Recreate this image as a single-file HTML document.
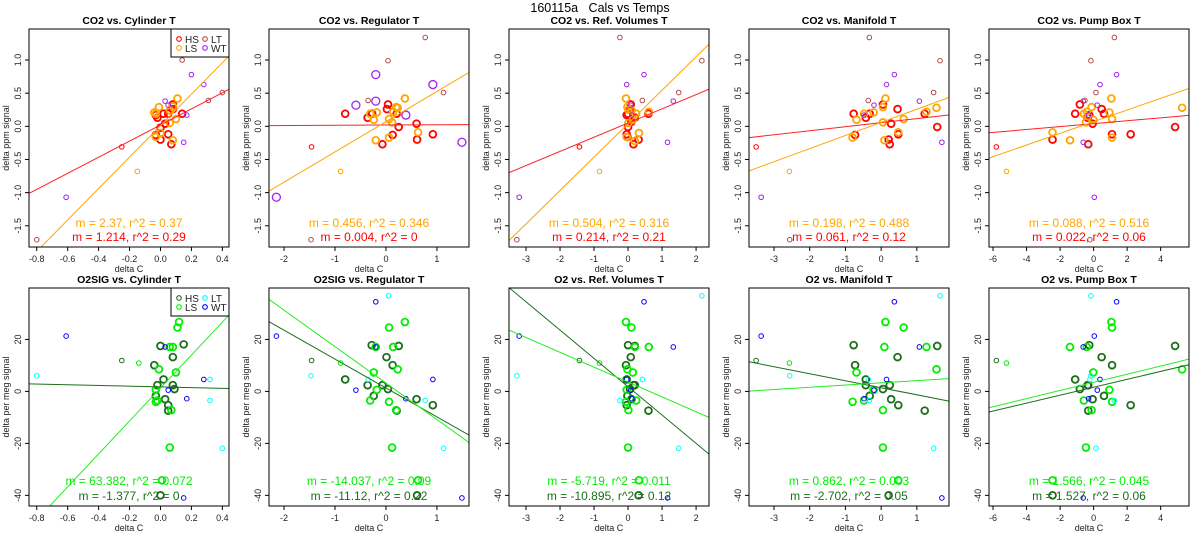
<!DOCTYPE html>
<html><head><meta charset="utf-8"><style>
body{margin:0;background:#fff;}
svg{display:block;font-family:"Liberation Sans",sans-serif;}
</style></head><body>
<svg id="chart" width="1200" height="550" viewBox="0 0 1200 550" xmlns="http://www.w3.org/2000/svg">
<text x="600" y="12" font-size="12.5" text-anchor="middle" style="white-space:pre">160115a   Cals vs Temps</text>
</svg>
<script>
// ---- data: top row (CO2), groups H=HS, S=LS, T=LT, W=WT, h/s = small HS/LS ----
const p1_x=[0,-0.02,0.02,0.05,0.08,0.08,0.14,0,0.05,0.07,0.03,-0.03,-0.03, -0.04,-0.01,0.11,0.06,0.1,0.06,0,-0.03,0.08,-0.03,0.08, 0.14,0.31,0.4,-0.8, -0.25, 0.2,0.28,0.03,0.05,0.17,0.15,-0.61, -0.15];
const p1_y=[-0.02,0.13,0.19,0.19,0.33,0.26,0.19,-0.2,-0.12,-0.27,0.04,-0.13,0.17, 0.21,0.29,0.42,0.24,0.11,0.05,-0.1,-0.16,-0.21,0.19,0.3, 1.0,0.39,0.51,-1.71, -0.31, 0.78,0.63,0.38,0.32,0.17,-0.24,-1.07, -0.68];
const p1_g="HHHHHHHHHHHHHSSSSSSSSSSSTTTThWWWWWWWs";
const p2_x=[-0.8,-0.36,-0.27,0.02,0.04,0.21,0.25,0.13,-0.07,0.6,0.61,0.92, -0.31,-0.24,-0.18,-0.2,0.06,0.06,0.12,0.14,0.2,0.23,0.37,0.63, 0.77,0.04,1.13,-0.35,-1.47, -1.46, -2.15,-0.2,0.92,-0.2,-0.59,0.39,1.49, -0.89];
const p2_y=[0.19,0.13,0.19,0.26,0.33,0.19,-0.01,-0.13,-0.27,0.04,-0.2,-0.12, 0.19,0.1,0.21,-0.21,0.11,-0.17,0.06,0.22,0.29,0.28,0.42,-0.09, 1.34,0.99,0.51,0.39,-1.71, -0.31, -1.07,0.78,0.63,0.38,0.32,0.17,-0.24, -0.68];
const p2_g="HHHHHHHHHHHHSSSSSSSSSSSSTTTTThVVVVVVVs";
const p3_x=[0,0.08,0.06,-0.04,0,-0.04,-0.02,0.16,0.31,0.6,0.2,0.1, -0.06,-0.02,0.01,0.01,0.14,0.24,0.32,0.2,-0.04,0.61,0.1, -0.24,2.17,1.49,0.42,-3.27, -1.43, 0.47,-0.04,1.33,0.08,0.11,1.16,-3.2, -0.84];
const p3_y=[0.19,0.33,0.26,0.17,-0.01,-0.12,-0.16,-0.27,-0.2,0.19,0.13,0.07, 0.42,0.29,0.25,0.05,0.1,0.19,-0.1,-0.22,-0.16,0.22,0.24, 1.34,0.99,0.51,0.39,-1.71, -0.31, 0.78,0.63,0.38,0.32,0.17,-0.24,-1.07, -0.68];
const p3_g="HHHHHHHHHHHHSSSSSSSSSSSTTTTThWWWWWWWs";
const p4_x=[-0.77,-0.43,-0.32,0.05,0.46,0.28,0.21,0.24,0.48,-0.73,1.22,1.57, -0.48,-0.21,-0.69,-0.8,0.12,0.05,0.05,0.09,0.48,0.63,1.27,1.55, -0.33,1.65,1.47,-0.36,-2.56, -3.5, 0.37,0.15,-0.2,1.07,-0.48,1.7,-3.36, -2.57];
const p4_y=[0.19,0.13,0.19,0.33,0.26,0.04,-0.2,-0.27,-0.12,-0.13,0.19,-0.01, 0.19,0.21,0.1,-0.17,0.42,0.29,0.06,-0.21,-0.09,0.11,0.22,0.28, 1.34,0.99,0.51,0.39,-1.71, -0.31, 0.78,0.63,0.32,0.38,0.17,-0.24,-1.07, -0.68];
const p4_g="HHHHHHHHHHHHSSSSSSSSSSSSTTTTThWWWWWWWs";
const p5_x=[-1.1,-0.82,-0.36,-0.26,-0.06,0.48,0.62,-0.32,-2.45,1.1,2.21,4.86, -0.58,-0.4,-0.46,-0.12,-0.02,1.06,0.94,1.1,1.1,-1.41,-2.45,5.28, 1.24,-0.16,0.14,-0.52,-0.22, -5.8, 1.37,0.38,0.22,-0.62,-0.3,-0.62,0.04, -5.2];
const p5_y=[0.19,0.33,0.13,0.17,0.04,0.26,0.19,-0.27,-0.2,-0.12,-0.12,-0.01, 0.19,0.22,0.06,0.29,0.1,0.42,0.21,0.11,-0.17,-0.21,-0.09,0.28, 1.34,0.99,0.51,0.39,-1.71, -0.31, 0.78,0.63,0.32,0.38,0.17,-0.24,-1.07, -0.68];
const p5_g="HHHHHHHHHHHHSSSSSSSSSSSSTTTTThWWWWWWWs";
// ---- data: bottom row (O2) ----
const q1_x=[0,0.15,0.08,-0.04,0.02,-0.02,0.08,0.09,-0.03,0.03,0.05,0.05,0, 0.12,0.11,0.06,0.08,-0.01,0.1,-0.03,-0.03,-0.02,0.07,0.06,0.01, -0.8,0.32,0.32,0.4, -0.61,0.03,0.28,0.05,0.17,0.15, -0.25,-0.14];
const q1_y=[17.5,18.1,13.2,10.1,4.6,2.4,2.4,0.9,-1.7,-3.0,-5.3,-7.4,-40, 26.7,24.6,17.1,17.1,8.5,7.3,0.6,-4.0,-3.5,-7.2,-21.6,-34.2, 6.0,4.6,-3.5,-21.9, 21.3,17.1,4.6,0.5,-2.8,-41, 11.9,10.9];
const q1_g="HHHHHHHHHHHHHSSSSSSSSSSSSTTTTWWWWWWhs";
const q2_x=[-0.28,0.25,0.01,0.13,-0.8,-0.36,-0.07,0.04,-0.24,0.6,0.92,0.21,0.61, 0.37,0.06,0.14,-0.2,0.23,-0.24,-0.18,0.06,-0.31,0.2,0.12,0.63, 0.05,-1.47,-0.35,0.77,1.13, -0.2,-2.15,-0.2,0.92,-0.59,0.39,1.49, -1.46,-0.89];
const q2_y=[17.8,17.5,13.2,10.1,4.6,2.4,2.4,0.9,-1.7,-3.0,-5.3,-7.4,-40, 26.7,24.6,17.1,17.1,8.5,7.3,0.6,-4.0,-3.5,-7.2,-21.6,-34.2, 36.8,6.0,4.6,-3.5,-21.9, 34.5,21.3,17.1,4.6,0.5,-2.8,-41, 11.9,10.9];
const q2_g="HHHHHHHHHHHHHSSSSSSSSSSSSTTTTTWWWWWWWhs";
const q3_x=[0,0.2,0.08,-0.06,-0.04,0.16,0.2,0.06,-0.02,0.1,-0.04,0.6,0.31, -0.06,0.1,0.2,0.61,-0.02,0.14,-0.04,-0.06,0.24,0.01,0,0.32, 2.17,-3.27,0.42,-0.24,1.49, 0.47,-3.2,1.33,-0.04,0.08,0.11,1.16, -1.43,-0.84];
const q3_y=q2_y.slice();
const q3_g=q2_g;
const q4_x=[-0.77,1.57,0.46,-0.73,-0.43,-0.43,0.24,0.05,-0.32,0.28,0.48,1.22,0.21, 0.12,0.63,0.09,1.27,1.55,-0.69,-0.21,-0.8,-0.48,0.05,0.05,0.48, 1.65,-2.56,-0.36,-0.33,1.47, 0.37,-3.36,1.07,0.15,-0.2,-0.48,1.7, -3.5,-2.57];
const q4_y=q2_y.slice();
const q4_g=q2_g;
const q5_x=[-0.26,4.86,0.48,1.1,-1.1,-0.36,-0.32,-0.82,0.62,-0.06,2.21,-0.32,-2.45, 1.06,1.1,-0.4,-1.41,5.28,-0.02,0.94,1.1,-0.58,-0.12,-0.46,-2.45, -0.16,-0.16,-0.22,1.24,0.14, 1.37,0.04,-0.62,0.38,0.22,-0.3,-0.62, -5.8,-5.2];
const q5_y=[17.8,17.5,13.2,10.1,4.6,2.4,2.4,0.9,-1.7,-3.0,-5.3,-7.4,-40, 26.7,24.6,17.1,17.1,8.5,7.3,0.6,-4.0,-3.5,-7.2,-21.6,-34.2, 36.8,6.0,4.6,-3.5,-21.9, 34.5,21.3,17.1,4.6,0.5,-2.8,-41, 11.9,10.9];
const q5_g=q2_g;
// ---- fit lines: slopes & intercepts ----
const topSlopeLS=[2.37,0.456,0.504,0.198,0.088];
const topIntLS=[0.01,0.07,0.04,0.06,0.07];
const topSlopeHS=[1.214,0.004,0.214,0.061,0.022];
const topIntHS=[0.02,0.02,0.05,0.055,0.04];
const botSlopeLS=[63.382,-14.037,-5.719,0.862,1.566];
const botIntLS=[1.3,3.2,3.6,3.3,3.5];
const botSlopeHS=[-1.377,-11.12,-10.895,-2.702,1.527];
const botIntHS=[1.75,1.3,1.8,1.4,1.6];
const topStatLS=["m = 2.37, r^2 = 0.37","m = 0.456, r^2 = 0.346","m = 0.504, r^2 = 0.316","m = 0.198, r^2 = 0.488","m = 0.088, r^2 = 0.516"];
const topStatHS=["m = 1.214, r^2 = 0.29","m = 0.004, r^2 = 0","m = 0.214, r^2 = 0.21","m = 0.061, r^2 = 0.12","m = 0.022, r^2 = 0.06"];
const botStatLS=["m = 63.382, r^2 = 0.072","m = -14.037, r^2 = 0.09","m = -5.719, r^2 = 0.011","m = 0.862, r^2 = 0.003","m = 1.566, r^2 = 0.045"];
const botStatHS=["m = -1.377, r^2 = 0","m = -11.12, r^2 = 0.22","m = -10.895, r^2 = 0.12","m = -2.702, r^2 = 0.05","m = 1.527, r^2 = 0.06"];
const topTitles=["CO2 vs. Cylinder T","CO2 vs. Regulator T","CO2 vs. Ref. Volumes T","CO2 vs. Manifold T","CO2 vs. Pump Box T"];
const botTitles=["O2SIG vs. Cylinder T","O2SIG vs. Regulator T","O2 vs. Ref. Volumes T","O2 vs. Manifold T","O2 vs. Pump Box T"];
const xRanges=[[-0.85,0.443],[-2.295,1.629],[-3.5,2.38],[-3.70,1.90],[-6.24,5.69]];
const xTicks=[[-0.8,-0.6,-0.4,-0.2,0.0,0.2,0.4],[-2,-1,0,1],[-3,-2,-1,0,1,2],[-3,-2,-1,0,1],[-6,-4,-2,0,2,4]];
const xTickLabels=[["-0.8","-0.6","-0.4","-0.2","0.0","0.2","0.4"],["-2","-1","0","1"],["-3","-2","-1","0","1","2"],["-3","-2","-1","0","1"],["-6","-4","-2","0","2","4"]];
const topYTicks=[-1.5,-1.0,-0.5,0.0,0.5,1.0];
const topYLabels=["-1.5","-1.0","-0.5","0.0","0.5","1.0"];
const botYTicks=[-40,-20,0,20];
const botYLabels=["-40","-20","0","20"];

const NS="http://www.w3.org/2000/svg";
const svg=document.getElementById('chart');
function mk(tag,attrs,parent){const e=document.createElementNS(NS,tag);for(const k in attrs)e.setAttribute(k,attrs[k]);(parent||svg).appendChild(e);return e;}
const topCol={H:'#ff0000',S:'#ffa500',T:'#b04848',W:'#a020f0',V:'#a020f0',h:'#ff0000',s:'#ffa500'};
const botCol={H:'#1a6e1a',S:'#00ee00',T:'#00ffff',W:'#0000ff',V:'#0000ff',h:'#1a6e1a',s:'#00ee00'};

function panel(i,row){
  const ox=i*240, L=ox+29, R=ox+229;
  const T=row===0?29:288, B=row===0?247:506;
  const yr=row===0?[-1.82,1.468]:[-44.1,39.8];
  const xr=xRanges[i];
  const sx=v=>L+(v-xr[0])/(xr[1]-xr[0])*(R-L);
  const sy=v=>B-(v-yr[0])/(yr[1]-yr[0])*(B-T);
  const g=mk('g',{});
  
  
  const cid='clip'+row+'_'+i;
  const cp=mk('clipPath',{id:cid},g);mk('rect',{x:L,y:T,width:R-L,height:B-T},cp);
  const t=mk('text',{x:(L+R)/2,y:T-5,'font-size':'10.5','font-weight':'bold','text-anchor':'middle'},g);
  t.textContent=row===0?topTitles[i]:botTitles[i];
  
  
  xTicks[i].forEach((v,k)=>{const x=sx(v);
    mk('line',{x1:x,x2:x,y1:B,y2:B+4,stroke:'#000','stroke-width':1},g);
    const tl=mk('text',{x:x,y:B+15,'font-size':'9','text-anchor':'middle',fill:'#222'},g);tl.textContent=xTickLabels[i][k];
    
    });
  const xl=mk('text',{x:(L+R)/2,y:B+25,'font-size':'9','text-anchor':'middle',fill:'#222'},g);xl.textContent='delta C';
  
  
  const yt=row===0?topYTicks:botYTicks, yl=row===0?topYLabels:botYLabels;
  yt.forEach((v,k)=>{const y=sy(v);
    mk('line',{x1:L-4,x2:L,y1:y,y2:y,stroke:'#000','stroke-width':1},g);
    const tl=mk('text',{x:L-8,y:y,'font-size':'9','text-anchor':'middle',fill:'#222',transform:`rotate(-90 ${L-8} ${y})`},g);tl.textContent=yl[k];
    
    });
  const ylab=mk('text',{x:ox+9,y:(T+B)/2,'font-size':'9','text-anchor':'middle',fill:'#222',transform:`rotate(-90 ${ox+9} ${(T+B)/2})`},g);
  ylab.textContent=row===0?'delta ppm signal':'delta per meg signal';
  
  
  const src=row===0?[p1_x,p2_x,p3_x,p4_x,p5_x][i]:[q1_x,q2_x,q3_x,q4_x,q5_x][i];
  const srcy=row===0?[p1_y,p2_y,p3_y,p4_y,p5_y][i]:[q1_y,q2_y,q3_y,q4_y,q5_y][i];
  const srcg=row===0?[p1_g,p2_g,p3_g,p4_g,p5_g][i]:[q1_g,q2_g,q3_g,q4_g,q5_g][i];
  const col=row===0?topCol:botCol;
  const pg=mk('g',{'clip-path':`url(#${cid})`},g);
  src.forEach((xv,k)=>{const gr=srcg[k];const big=gr==='H'||gr==='S';const mid=gr==='V';
    const c=mk('circle',{cx:sx(xv),cy:sy(srcy[k]),r:big?3.4:(mid?4:2.3),fill:'none',stroke:col[gr],'stroke-width':big?1.8:(mid?1.3:1)},pg);
    
    });
  const lines=row===0?[[topSlopeHS[i],topIntHS[i],'#ff2020'],[topSlopeLS[i],topIntLS[i],'#ffa500']]
                     :[[botSlopeHS[i],botIntHS[i],'#1a6e1a'],[botSlopeLS[i],botIntLS[i],'#22ee22']];
  lines.forEach(([m,b,c])=>{const ln=mk('line',{x1:sx(xr[0]),y1:sy(m*xr[0]+b),x2:sx(xr[1]),y2:sy(m*xr[1]+b),stroke:c,'stroke-width':1},pg);
    
    });
  mk('rect',{x:L,y:T,width:R-L,height:B-T,fill:'none',stroke:'#000','stroke-width':1},g);
  const s1=mk('text',{x:(L+R)/2,y:row===0?227:485,'font-size':'12','text-anchor':'middle',fill:row===0?'#ffa500':'#00ee00'},g);
  s1.textContent=row===0?topStatLS[i]:botStatLS[i];
  
  
  const s2=mk('text',{x:(L+R)/2,y:row===0?241:500,'font-size':'12','text-anchor':'middle',fill:row===0?'#ff0000':'#1a6e1a'},g);
  s2.textContent=row===0?topStatHS[i]:botStatHS[i];
  
  
  if(i===0){
    const lg=mk('g',{},g);
    
    
    mk('rect',{x:171,y:T,width:58,height:28,fill:'#fff',stroke:'#000','stroke-width':1},lg);
    const ent=[['HS','H',179,T+10],['LT','T',205,T+10],['LS','S',179,T+19],['WT','W',205,T+19]];
    ent.forEach(([lab,gr,x,y])=>{
      mk('circle',{cx:x,cy:y,r:2.3,fill:'none',stroke:col[gr],'stroke-width':1.1},lg);
      const tx=mk('text',{x:x+6,y:y+4,'font-size':'10',fill:'#222'},lg);tx.textContent=lab;
      
      });
  }
}
for(let r=0;r<2;r++)for(let i=0;i<5;i++)panel(i,r);
</script>
</body></html>
